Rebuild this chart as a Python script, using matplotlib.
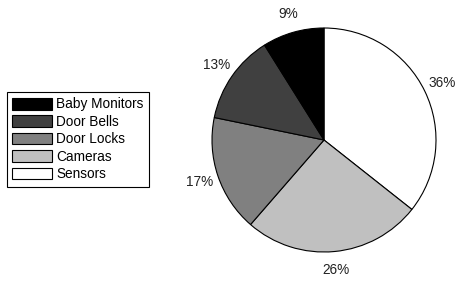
import matplotlib
matplotlib.use("Agg")
import matplotlib.pyplot as plt

plt.rcParams['font.family'] = ['Liberation Sans', 'DejaVu Sans']

categories = ['Sensors', 'Cameras', 'Door Locks', 'Door Bells', 'Baby Monitors']
shares = [36, 26, 17, 13, 9]
fills = ['#ffffff', '#c0c0c0', '#808080', '#404040', '#000000']

W, H = 457, 282
fig = plt.figure(figsize=(W / 100, H / 100), dpi=100)

# pie centre ~ (324, 140) px, radius ~112 px
cx, cy, r = 324, 140, 112
ax = fig.add_axes([(cx - r) / W, (H - cy - r) / H, 2 * r / W, 2 * r / H])

wedges, texts, autotexts = ax.pie(
    shares, colors=fills, startangle=90, counterclock=False,
    autopct='%d%%', pctdistance=1.17,
    wedgeprops=dict(edgecolor='black', linewidth=0.8),
    textprops=dict(fontsize=9.8, color='#222222'))
ax.set_xlim(-1, 1)
ax.set_ylim(-1, 1)
ax.set_aspect('equal')

# autopct gives rounded values of normalised shares; show the source numbers
for t, v in zip(autotexts, shares):
    t.set_text(f'{v}%')

leg = fig.legend(wedges[::-1], categories[::-1],
                 loc='upper left', bbox_to_anchor=(7 / W, 1 - 92 / H),
                 fontsize=9.8, handlelength=2.9, handleheight=0.95,
                 handletextpad=0.3, labelspacing=0.25,
                 borderpad=0.4, borderaxespad=0, fancybox=False,
                 framealpha=1, edgecolor='black')
leg.get_frame().set_linewidth(0.8)

fig.savefig('out.png', dpi=100)
